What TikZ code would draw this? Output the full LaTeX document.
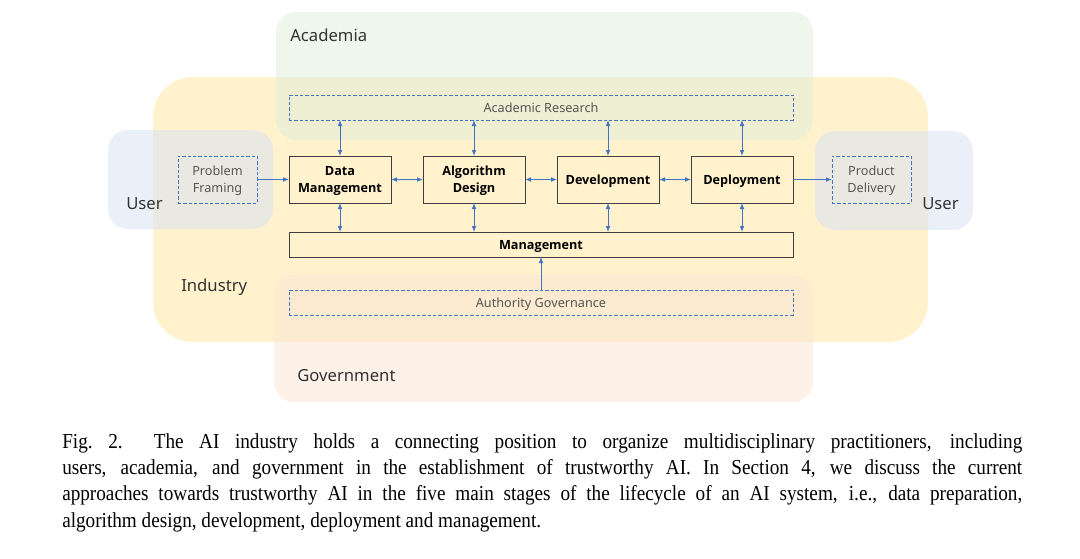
\documentclass[tikz,border=0pt]{standalone}
\usepackage{fontspec}
\setmainfont{Liberation Serif}[FakeStretch=0.9]
\newfontfamily\dfont{Noto Sans}
\newfontfamily\bfnt{Open Sans}
\usetikzlibrary{arrows.meta}
\definecolor{indY}{HTML}{FFF2CC}
\definecolor{acG}{HTML}{E2EFDA}
\definecolor{usB}{HTML}{DAE3F3}
\definecolor{goO}{HTML}{FBE5D6}
\definecolor{arrB}{HTML}{4472C4}
\definecolor{txtG}{HTML}{333333}
\definecolor{boxG}{HTML}{3F3F3F}
\definecolor{dashG}{HTML}{555555}
\newcommand\capline[1]{\hbox to 720pt{#1}}
\tikzset{
  region/.style={rounded corners=15pt, draw=none},
  overlay/.style={region, fill opacity=0.55},
  rlabel/.style={anchor=west, inner sep=0pt, font=\dfont\fontsize{12.5}{14}\selectfont, text=txtG},
  stagebox/.style={draw=boxG, line width=0.7pt, inner sep=0pt, outer sep=0pt, font=\bfnt\bfseries\fontsize{9.5}{12.5}\selectfont, align=center, text=black, text depth=0pt},
  dbox/.style={draw=arrB, dashed, dash pattern=on 2.5pt off 1.5pt, line width=0.6pt, inner sep=0pt, outer sep=0pt, font=\dfont\fontsize{9.5}{12.5}\selectfont, align=center, text=dashG, text depth=0pt},
  arr/.style={draw=arrB, line width=0.6pt, -{Latex[length=4.5pt,width=3.5pt]}},
  darr/.style={draw=arrB, line width=0.6pt, {Latex[length=4.5pt,width=3.5pt]}-{Latex[length=4.5pt,width=3.5pt]}},
}
\begin{document}
\begin{tikzpicture}[x=0.75pt, y=-0.75pt]
\useasboundingbox (0,0) rectangle (1080,558);
% regions
\fill[region, fill=indY, rounded corners=30pt] (153,77) rectangle (928,342);
\fill[overlay, fill=acG] (276,12) rectangle (813,140);
\fill[overlay, fill=usB] (108,130) rectangle (273,229);
\fill[overlay, fill=usB] (815,131) rectangle (973,230);
\fill[overlay, fill=goO] (274,275) rectangle (813,402);
\node[rlabel] (lacad) at (290,35) {Academia};
\node[rlabel] (lind) at (181,287) {Industry};
\node[rlabel] (lusl) at (126,204) {User};
\node[rlabel] (lusr) at (922,204) {User};
\node[rlabel] (lgov) at (297,376) {Government};
% boxes
\node[dbox, minimum width=378pt, minimum height=18.75pt] (ar) at (541,107.5) {Academic Research};
\node[stagebox, minimum width=76.5pt, minimum height=35.25pt] (dm) at (340,179.5) {Data\\Management};
\node[stagebox, minimum width=76.5pt, minimum height=35.25pt] (ad) at (474,179.5) {Algorithm\\Design};
\node[stagebox, minimum width=76.5pt, minimum height=35.25pt] (dev) at (608,179.5) {Development};
\node[stagebox, minimum width=76.5pt, minimum height=35.25pt] (dep) at (742,179.5) {Deployment};
\node[stagebox, minimum width=378pt, minimum height=18.75pt] (mg) at (541,244.5) {Management};
\node[dbox, minimum width=378pt, minimum height=18.75pt] (ag) at (541,302.5) {Authority Governance};
\node[dbox, minimum width=59.25pt, minimum height=35.25pt] (pf) at (217.5,179.5) {Problem\\Framing};
\node[dbox, minimum width=59.25pt, minimum height=35.25pt] (pd) at (871.5,179.5) {Product\\Delivery};
% connectors
\foreach \b in {dm,ad,dev,dep}{
  \draw[darr] (ar.south -| \b) -- (\b.north);
  \draw[darr] (\b.south) -- (mg.north -| \b);
}
\draw[darr] (dm) -- (ad);
\draw[darr] (ad) -- (dev);
\draw[darr] (dev) -- (dep);
\draw[arr] (pf) -- (dm);
\draw[arr] (dep) -- (pd);
\draw[arr] (ag) -- (mg);
% caption
\node[anchor=north west, inner sep=0pt, font=\fontsize{16}{19.8}\selectfont, align=left] (cap) at (62,433) {%
\capline{Fig.~2.\ \ The AI industry holds a connecting position to organize multidisciplinary practitioners, including}\\
\capline{users, academia, and government in the establishment of trustworthy AI. In Section 4, we discuss the current}\\
\capline{approaches towards trustworthy AI in the five main stages of the lifecycle of an AI system, i.e., data preparation,}\\
algorithm design, development, deployment and management.};
\end{tikzpicture}
\end{document}
